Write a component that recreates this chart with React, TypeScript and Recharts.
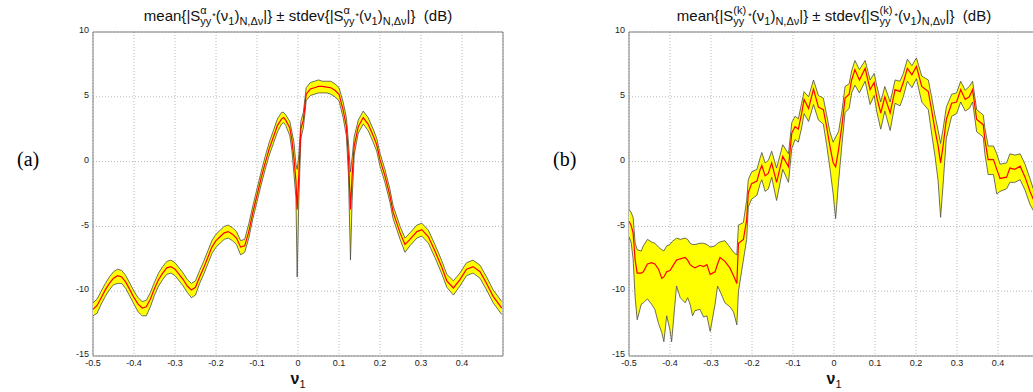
import React from "react";
import {
  ComposedChart,
  Area,
  Line,
  XAxis,
  YAxis,
  CartesianGrid,
  ReferenceArea,
} from "recharts";

const xTicks = [-0.5, -0.4, -0.3, -0.2, -0.1, 0, 0.1, 0.2, 0.3, 0.4];
const yTicks = [-15, -10, -5, 0, 5, 10];

// panel (a)
const leftV = [
  -0.5, -0.49, -0.48, -0.47, -0.46, -0.45, -0.44, -0.43, -0.42, -0.41,
  -0.4, -0.39, -0.38, -0.37, -0.36, -0.35, -0.34, -0.33, -0.32, -0.31,
  -0.3, -0.29, -0.28, -0.27, -0.26, -0.25, -0.24, -0.23, -0.22, -0.21,
  -0.2, -0.19, -0.18, -0.17, -0.16, -0.15, -0.14, -0.13, -0.12, -0.11,
  -0.1, -0.09, -0.08, -0.07, -0.06, -0.05, -0.04, -0.035, -0.03,
  -0.02, -0.015, -0.01, -0.005, -0.002, 0.002, 0.007, 0.013,
  0.02, 0.03, 0.04, 0.05, 0.06, 0.07, 0.08, 0.09, 0.1,
  0.11, 0.118, 0.123, 0.128, 0.132, 0.137,
  0.147, 0.159, 0.171, 0.184, 0.192, 0.2,
  0.212, 0.224, 0.232, 0.249, 0.261, 0.273,
  0.29, 0.302, 0.318, 0.334, 0.35, 0.363,
  0.379, 0.395, 0.411, 0.427, 0.444, 0.46, 0.476, 0.497,
];
const leftMean = [
  -11.4, -11.1, -10.5, -9.9, -9.4, -9.0, -8.8, -8.9, -9.3, -9.9,
  -10.5, -11.0, -11.3, -11.2, -10.6, -9.8, -9.1, -8.6, -8.2, -8.1,
  -8.3, -8.7, -9.1, -9.6, -9.9, -9.7, -8.9, -8.2, -7.4, -6.6,
  -6.1, -5.8, -5.5, -5.4, -5.6, -5.9, -6.6, -6.5, -5.4, -3.9,
  -2.6, -1.3, -0.1, 1.0, 1.9, 2.8, 3.3, 3.4, 3.2,
  2.6, 1.7, 0.3, -1.5, -3.7, -1.0, 2.5, 3.2,
  5.2, 5.6, 5.7, 5.8, 5.8, 5.75, 5.7, 5.5, 5.2,
  4.0, 2.7, 0.4, -3.7, -1.1, 1.2,
  2.7, 3.4, 2.9, 1.95, 1.3, 0.15,
  -1.1, -2.6, -3.9, -5.5, -6.4, -6.0,
  -5.4, -5.25, -5.8, -6.9, -8.1, -9.2,
  -9.75, -9.1, -8.3, -8.1, -8.5, -9.4, -10.4, -11.3,
];
const leftLo = [
  -11.9, -11.7, -11.0, -10.4, -9.9, -9.5, -9.4, -9.4, -9.8, -10.4,
  -11.0, -11.6, -11.9, -11.9, -11.2, -10.3, -9.6, -9.1, -8.7, -8.6,
  -8.8, -9.2, -9.6, -10.1, -10.5, -10.3, -9.4, -8.7, -7.9, -7.1,
  -6.6, -6.3, -6.0, -5.9, -6.1, -6.4, -7.2, -7.0, -5.9, -4.4,
  -3.1, -1.8, -0.6, 0.5, 1.4, 2.3, 2.9, 3.0, 2.8,
  2.0, 0.9, -0.9, -2.8, -8.9, -3.0, 1.8, 2.6,
  4.7, 5.1, 5.2, 5.3, 5.3, 5.3, 5.2, 5.0, 4.7,
  3.4, 2.0, -1.0, -7.6, -3.0, 0.5,
  2.2, 2.9, 2.4, 1.45, 0.8, -0.35,
  -1.6, -3.1, -4.4, -6.0, -7.0, -6.5,
  -5.9, -5.75, -6.3, -7.4, -8.6, -9.7,
  -10.3, -9.6, -8.8, -8.6, -9.0, -9.9, -10.9, -11.8,
];
const leftHi = [
  -10.9, -10.6, -10.0, -9.4, -8.9, -8.5, -8.3, -8.4, -8.8, -9.4,
  -10.0, -10.5, -10.8, -10.7, -10.1, -9.3, -8.6, -8.1, -7.7, -7.6,
  -7.8, -8.2, -8.6, -9.1, -9.4, -9.2, -8.4, -7.7, -6.9, -6.1,
  -5.6, -5.3, -5.0, -4.9, -5.1, -5.4, -6.1, -6.0, -4.8, -3.4,
  -2.1, -0.8, 0.4, 1.5, 2.4, 3.3, 3.8, 3.8, 3.6,
  3.1, 2.3, 1.5, -0.2, -0.6, 0.5, 3.1, 3.8,
  5.7, 6.1, 6.2, 6.3, 6.2, 6.2, 6.2, 6.0, 5.7,
  4.6, 3.4, 1.5, -0.8, 0.3, 1.9,
  3.2, 3.9, 3.4, 2.45, 1.8, 0.65,
  -0.6, -2.1, -3.4, -5.0, -5.9, -5.5,
  -4.9, -4.75, -5.3, -6.4, -7.6, -8.7,
  -9.2, -8.6, -7.8, -7.6, -8.0, -8.9, -9.9, -10.8,
];

// panel (b)
const rightV = [
  -0.5, -0.495, -0.49, -0.485, -0.48, -0.47, -0.465, -0.455, -0.445, -0.437,
  -0.428, -0.42, -0.415, -0.408, -0.4, -0.396, -0.388, -0.384, -0.375, -0.363,
  -0.357, -0.351, -0.345, -0.339, -0.327, -0.318, -0.31, -0.302, -0.29, -0.284,
  -0.278, -0.266, -0.254, -0.245, -0.237, -0.233, -0.221, -0.213, -0.209, -0.201,
  -0.188, -0.18, -0.176, -0.168, -0.16, -0.152, -0.14, -0.125, -0.111, -0.103,
  -0.095, -0.087, -0.079, -0.073, -0.062, -0.05, -0.038, -0.026, -0.018, -0.01,
  -0.002, 0.004, 0.011, 0.019, 0.027, 0.037, 0.043, 0.051, 0.062, 0.076,
  0.088, 0.098, 0.104, 0.114, 0.124, 0.137, 0.149, 0.161, 0.169, 0.179,
  0.19, 0.201, 0.214, 0.23, 0.238, 0.246, 0.254, 0.26, 0.266, 0.274,
  0.287, 0.299, 0.309, 0.32, 0.33, 0.338, 0.348, 0.364, 0.368, 0.376,
  0.389, 0.397, 0.405, 0.421, 0.429, 0.441, 0.454, 0.466, 0.478, 0.49,
  0.5,
];
const rightMean = [
  -4.6, -4.9, -5.5, -7.6, -8.6, -8.6, -8.5, -7.9, -7.8, -7.9,
  -8.3, -9.0, -8.9, -8.5, -8.4, -8.2, -7.8, -7.6, -7.5, -7.4,
  -7.6, -7.95, -8.1, -8.2, -8.0, -8.1, -7.95, -8.7, -8.5, -7.9,
  -7.4, -7.7, -8.2, -8.8, -9.4, -6.3, -6.0, -4.5, -2.4, -1.7,
  -1.5, -0.6, -0.3, -1.1, -0.9, -0.1, -1.6, 0.4, -0.4, 2.2,
  2.7, 2.5, 3.7, 4.8, 4.1, 5.6, 4.2, 4.0, 2.7, 1.2,
  -0.1, -0.4, 0.9, 2.7, 4.9, 5.2, 6.3, 7.1, 6.3, 7.2,
  5.55, 6.1, 5.0, 3.75, 5.0, 3.75, 5.55, 5.4, 6.1, 7.2,
  6.7, 7.35, 5.8, 5.4, 4.0, 2.5, 1.2, -0.1, 1.2, 3.25,
  4.5, 4.6, 5.55, 4.8, 5.0, 5.55, 3.25, 2.85, 1.7, 0.15,
  0.15, -0.6, -1.3, -1.2, -0.5, -0.6, -0.35, -1.2, -2.3, -3.2,
  -3.6,
];
const rightLo = [
  -5.8, -6.2, -7.5, -10.5, -12.2, -11.0, -10.9, -10.6, -11.0, -11.4,
  -12.5, -13.2, -13.9, -11.9, -13.0, -13.9, -11.0, -9.6, -10.5, -10.9,
  -10.5, -11.0, -11.9, -11.5, -11.4, -12.0, -11.9, -13.1, -11.0, -9.6,
  -10.0, -10.9, -11.2, -11.6, -12.6, -10.0, -7.6, -6.0, -3.5, -2.9,
  -2.6, -1.7, -1.4, -2.3, -2.1, -1.2, -3.0, -0.6, -1.6, 1.0,
  1.7, 1.5, 2.6, 3.7, 3.1, 4.4, 3.2, 2.9, 1.3, -0.5,
  -2.5, -4.4, -1.6, 1.2, 3.8, 4.1, 5.3, 5.9, 5.3, 6.2,
  4.4, 5.1, 3.9, 2.5, 3.9, 2.4, 4.5, 4.3, 5.0, 6.2,
  5.7, 6.4, 4.6, 4.0, 2.2, 0.5, -1.5, -4.3, -1.8, 1.8,
  3.5, 3.7, 4.6, 3.9, 4.1, 4.6, 2.3, 1.9, 0.6, -1.0,
  -1.0, -2.5, -2.3, -2.1, -1.6, -1.6, -1.4, -2.2, -3.3, -4.0,
  -4.3,
];
const rightHi = [
  -3.7, -3.9, -4.3, -6.3, -6.8, -6.9, -6.5, -6.0, -6.2, -6.3,
  -6.6, -6.8, -6.9, -6.5, -6.4, -6.2, -6.0, -5.9, -6.0, -5.9,
  -6.0, -6.3, -6.4, -6.4, -6.3, -6.3, -6.4, -6.6, -6.5, -6.3,
  -6.2, -6.1, -6.6, -7.0, -7.2, -4.9, -4.7, -3.0, -1.4, -0.8,
  -0.6, 0.3, 0.7, -0.1, 0.1, 0.8, -0.5, 1.3, 0.6, 3.0,
  3.5, 3.3, 4.5, 5.4, 5.0, 6.3, 5.1, 4.9, 3.6, 2.3,
  1.5, 1.9, 2.3, 3.8, 5.8, 6.0, 7.0, 7.8, 7.1, 7.8,
  6.3, 6.8, 5.9, 4.6, 5.8, 4.6, 6.3, 6.2, 6.8, 7.9,
  7.4, 8.0, 6.6, 6.3, 5.0, 3.6, 2.4, 1.4, 2.5, 4.2,
  5.2, 5.3, 6.2, 5.5, 5.8, 6.2, 4.0, 3.6, 2.6, 1.2,
  1.2, 0.6, -0.2, -0.1, 0.6, 0.5, 0.6, -0.2, -1.3, -2.5,
  -3.0,
];

const toRows = (v: number[], m: number[], lo: number[], hi: number[]) =>
  v.map((x, i) => ({ v: x, mean: m[i], band: [lo[i], hi[i]] }));

const leftRows = toRows(leftV, leftMean, leftLo, leftHi);
const rightRows = toRows(rightV, rightMean, rightLo, rightHi);

const W = 520;
const H = 392;
const font = "'Liberation Sans', Arial, Helvetica, sans-serif";

// superscript stacked over subscript
const SupSub = ({ sup, sub, w }: { sup: string; sub: string; w: number }) => (
  <span
    style={{
      display: "inline-block",
      position: "relative",
      width: w,
      height: 10,
      fontSize: 11,
      lineHeight: "11px",
    }}
  >
    <span style={{ position: "absolute", left: 0, top: -6 }}>{sup}</span>
    <span style={{ position: "absolute", left: 0, top: 5 }}>{sub}</span>
  </span>
);

const Term = ({ sup, w }: { sup: string; w: number }) => (
  <>
    |S
    <SupSub sup={sup} sub="yy" w={w} />
    <span style={{ fontSize: 9, position: "relative", top: -2 }}>*</span>
    (ν<sub style={{ fontSize: 11, lineHeight: 0 }}>1</sub>)
    <sub style={{ fontSize: 11, lineHeight: 0 }}>N,Δν</sub>|
  </>
);

const Panel = ({
  rows,
  left,
  sup,
  supW,
  tag,
}: {
  rows: any[];
  left: number;
  sup: string;
  supW: number;
  tag: string;
}) => (
  <div style={{ position: "absolute", left, top: 0, width: W, height: H }}>
    <div
      style={{
        position: "absolute",
        left: 93,
        width: 410,
        top: 8,
        textAlign: "center",
        fontFamily: font,
        fontSize: 15,
        lineHeight: "16px",
        color: "#111",
        whiteSpace: "nowrap",
      }}
    >
      mean{"{"}
      <Term sup={sup} w={supW} />
      {"}"} ± stdev{"{"}
      <Term sup={sup} w={supW} />
      {"}"}&nbsp;&nbsp;(dB)
    </div>
    <ComposedChart
      width={W}
      height={H}
      data={rows}
      margin={{ top: 32, left: 63, right: W - 503, bottom: 16 }}
    >
      <CartesianGrid stroke="#b8b8b8" strokeDasharray="1 2" />
      <XAxis
        type="number"
        dataKey="v"
        domain={[-0.5, 0.5]}
        ticks={xTicks}
        allowDataOverflow
        axisLine={false}
        tickLine={false}
        tickSize={2}
        tickMargin={2}
        height={20}
        tick={{ fontSize: 9, fill: "#222", fontFamily: font }}
      />
      <YAxis
        type="number"
        domain={[-15, 10]}
        ticks={yTicks}
        allowDataOverflow
        axisLine={false}
        tickLine={false}
        tickSize={2}
        tickMargin={2}
        width={30}
        tick={{ fontSize: 9, fill: "#222", fontFamily: font, dy: -2 }}
      />
      <ReferenceArea
        x1={-0.5}
        x2={0.5}
        y1={-15}
        y2={10}
        fill="none"
        stroke="#7f7f7f"
        strokeWidth={1}
      />
      <Area
        type="linear"
        dataKey="band"
        stroke="#4a4a4a"
        strokeWidth={0.8}
        fill="#ffff00"
        fillOpacity={1}
        dot={false}
        activeDot={false}
        isAnimationActive={false}
      />
      <Line
        type="linear"
        dataKey="mean"
        stroke="#ff0000"
        strokeWidth={1.2}
        dot={false}
        activeDot={false}
        isAnimationActive={false}
      />
    </ComposedChart>
    <div
      style={{
        position: "absolute",
        left: 93,
        width: 410,
        top: 370,
        textAlign: "center",
        fontFamily: font,
        fontSize: 16,
        fontWeight: "bold",
        color: "#111",
      }}
    >
      ν<sub style={{ fontSize: 11, fontWeight: "normal" }}>1</sub>
    </div>
    <div
      style={{
        position: "absolute",
        left: 17,
        top: 148,
        fontFamily: "'Liberation Serif', 'Times New Roman', serif",
        fontSize: 20,
        color: "#000",
      }}
    >
      {tag}
    </div>
  </div>
);

export default function App() {
  return (
    <div
      style={{
        position: "absolute",
        left: 0,
        top: 0,
        width: 1033,
        height: 392,
        overflow: "hidden",
        background: "#fff",
      }}
    >
      <Panel rows={leftRows} left={0} sup="α" supW={12} tag="(a)" />
      <Panel rows={rightRows} left={536} sup="(k)" supW={15} tag="(b)" />
    </div>
  );
}
